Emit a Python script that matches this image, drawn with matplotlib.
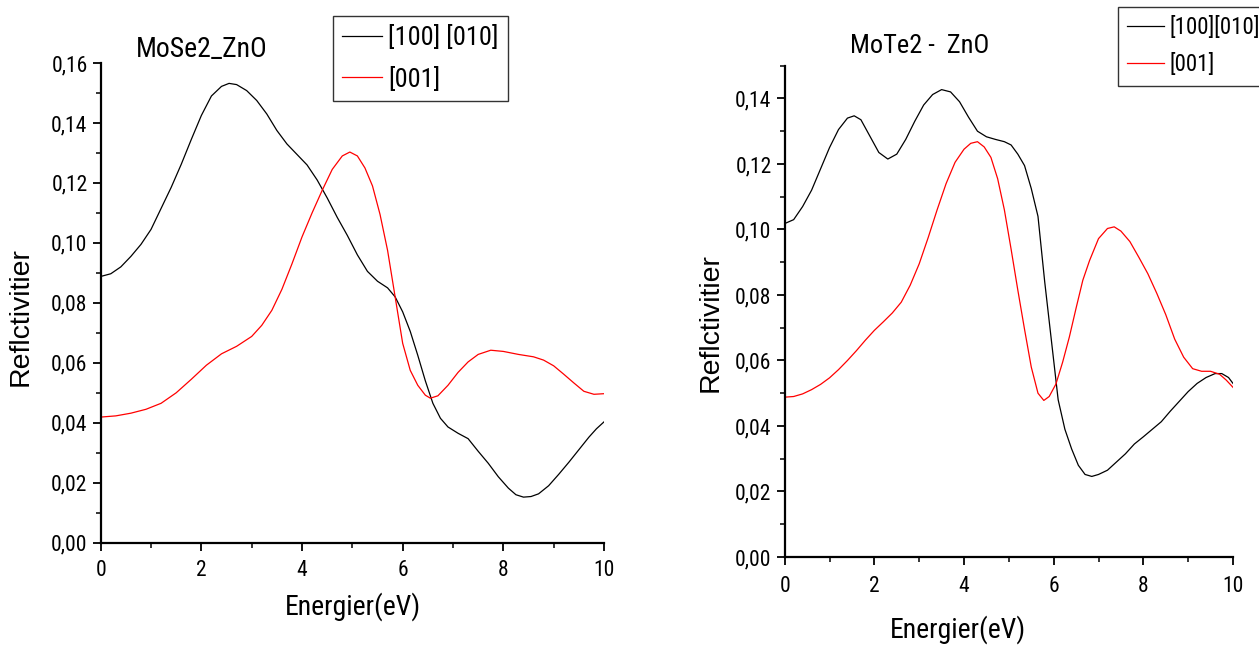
import matplotlib
matplotlib.use("Agg")
import matplotlib.pyplot as plt
from matplotlib.ticker import MultipleLocator, FuncFormatter
from matplotlib import font_manager
from matplotlib.font_manager import FontProperties

# ---------------- data ----------------
# MoSe2_ZnO, polarisation [100] [010]
mose2_e_xy = [0, 0.2, 0.4, 0.6, 0.8, 1.0, 1.2, 1.4, 1.6, 1.8, 2.0, 2.2, 2.4, 2.55, 2.7,
              2.9, 3.1, 3.3, 3.5, 3.7, 3.9, 4.1, 4.3, 4.5, 4.7, 4.9, 5.1, 5.3, 5.5, 5.7,
              5.85, 6.0, 6.15, 6.3, 6.45, 6.6, 6.75, 6.9, 7.1, 7.3, 7.5, 7.7, 7.9, 8.1,
              8.25, 8.4, 8.55, 8.7, 8.9, 9.1, 9.3, 9.5, 9.7, 9.85, 10.0]
mose2_r_xy = [0.0888, 0.0897, 0.0920, 0.0955, 0.0995, 0.1045, 0.1115, 0.1185, 0.1262, 0.1345,
              0.1425, 0.1490, 0.1522, 0.1532, 0.1528, 0.1508, 0.1475, 0.1430, 0.1375, 0.1330,
              0.1295, 0.1260, 0.1210, 0.1150, 0.1085, 0.1025, 0.0960, 0.0905, 0.0872, 0.0850,
              0.0820, 0.0770, 0.0705, 0.0625, 0.0540, 0.0465, 0.0415, 0.0386, 0.0365, 0.0347,
              0.0305, 0.0265, 0.0220, 0.0182, 0.0160, 0.0152, 0.0154, 0.0163, 0.0190, 0.0228,
              0.0268, 0.0310, 0.0352, 0.0380, 0.0403]

# MoSe2_ZnO, polarisation [001]
mose2_e_z = [0, 0.3, 0.6, 0.9, 1.2, 1.5, 1.8, 2.1, 2.4, 2.7, 3.0, 3.2, 3.4, 3.6, 3.8, 4.0,
             4.2, 4.4, 4.6, 4.8, 4.95, 5.1, 5.25, 5.4, 5.55, 5.7, 5.85, 6.0, 6.15, 6.3,
             6.45, 6.55, 6.7, 6.9, 7.1, 7.3, 7.5, 7.75, 8.0, 8.3, 8.6, 8.8, 9.0, 9.2, 9.4,
             9.6, 9.8, 10.0]
mose2_r_z = [0.0419, 0.0423, 0.0432, 0.0445, 0.0465, 0.0500, 0.0545, 0.0592, 0.0630, 0.0655,
             0.0688, 0.0725, 0.0775, 0.0845, 0.0930, 0.1020, 0.1100, 0.1175, 0.1245, 0.1290,
             0.1303, 0.1290, 0.1250, 0.1190, 0.1095, 0.0975, 0.0820, 0.0665, 0.0575, 0.0525,
             0.0492, 0.0482, 0.0490, 0.0525, 0.0568, 0.0603, 0.0628, 0.0642, 0.0638, 0.0628,
             0.0620, 0.0609, 0.0590, 0.0562, 0.0533, 0.0505, 0.0495, 0.0497]

# MoTe2 - ZnO, polarisation [100][010]
mote2_e_xy = [0, 0.2, 0.4, 0.6, 0.8, 1.0, 1.2, 1.4, 1.55, 1.7, 1.9, 2.1, 2.3, 2.5, 2.7, 2.9,
              3.1, 3.3, 3.5, 3.7, 3.9, 4.1, 4.3, 4.5, 4.7, 4.9, 5.05, 5.2, 5.35, 5.5, 5.65,
              5.8, 5.95, 6.1, 6.25, 6.4, 6.55, 6.7, 6.85, 7.0, 7.2, 7.4, 7.6, 7.8, 8.0, 8.2,
              8.4, 8.6, 8.8, 9.0, 9.2, 9.4, 9.6, 9.75, 9.9, 10.0]
mote2_r_xy = [0.1018, 0.1030, 0.1070, 0.1120, 0.1185, 0.1250, 0.1305, 0.1340, 0.1347, 0.1335,
              0.1285, 0.1235, 0.1215, 0.1230, 0.1275, 0.1330, 0.1380, 0.1412, 0.1427, 0.1420,
              0.1390, 0.1343, 0.1300, 0.1283, 0.1275, 0.1268, 0.1258, 0.1230, 0.1195, 0.1125,
              0.1040, 0.0840, 0.0660, 0.0480, 0.0390, 0.0330, 0.0280, 0.0252, 0.0246, 0.0252,
              0.0265, 0.0290, 0.0315, 0.0345, 0.0367, 0.0390, 0.0413, 0.0445, 0.0475, 0.0505,
              0.0530, 0.0548, 0.0560, 0.0560, 0.0548, 0.0530]

# MoTe2 - ZnO, polarisation [001]
mote2_e_z = [0, 0.2, 0.4, 0.6, 0.8, 1.0, 1.2, 1.4, 1.6, 1.8, 2.0, 2.2, 2.4, 2.6, 2.8, 3.0,
             3.2, 3.4, 3.6, 3.8, 4.0, 4.15, 4.3, 4.45, 4.6, 4.75, 4.9, 5.05, 5.2, 5.35, 5.5,
             5.65, 5.78, 5.9, 6.05, 6.2, 6.35, 6.5, 6.65, 6.8, 7.0, 7.2, 7.35, 7.5, 7.7, 7.9,
             8.1, 8.3, 8.5, 8.7, 8.9, 9.1, 9.3, 9.5, 9.7, 9.85, 10.0]
mote2_r_z = [0.0488, 0.0490, 0.0498, 0.0511, 0.0527, 0.0547, 0.0572, 0.0600, 0.0630, 0.0662,
             0.0692, 0.0718, 0.0745, 0.0778, 0.0830, 0.0895, 0.0975, 0.1060, 0.1140, 0.1205,
             0.1245, 0.1263, 0.1268, 0.1252, 0.1220, 0.1155, 0.1060, 0.0940, 0.0815, 0.0695,
             0.0580, 0.0500, 0.0478, 0.0490, 0.0528, 0.0595, 0.0672, 0.0760, 0.0845, 0.0905,
             0.0972, 0.1003, 0.1008, 0.0995, 0.0963, 0.0915, 0.0865, 0.0805, 0.0740, 0.0665,
             0.0610, 0.0575, 0.0567, 0.0567, 0.0558, 0.0540, 0.0518]

legend_labels_left = ["[100] [010]", "[001]"]
legend_labels_right = ["[100][010]", "[001]"]
titles = ["MoSe2_ZnO", "MoTe2 -  ZnO"]
x_label = "Energier(eV)"
y_label = "Reflctivitier"

# ---------------- fonts ----------------
# Prefer a narrow sans face; otherwise fall back to Liberation Sans, slightly smaller.
def _find_narrow():
    wanted = ["Liberation Sans Narrow", "Arial Narrow", "Roboto Condensed",
              "Open Sans Condensed", "Noto Sans Condensed", "DejaVu Sans Condensed"]
    entries = font_manager.fontManager.ttflist
    for name in wanted:
        for f in entries:
            if f.name == name and f.style == "normal" and f.weight in (400, "normal", "regular"):
                return f.fname
    for f in entries:
        st = str(f.stretch)
        if (("condensed" in st and "extra" not in st and "ultra" not in st)
                or "Narrow" in f.name or "Condensed" in f.name) \
                and f.style == "normal" and f.weight in (400, "normal", "regular"):
            return f.fname
    return None


NARROW_FILE = _find_narrow()


def narrow(size):
    if NARROW_FILE:
        return FontProperties(fname=NARROW_FILE, size=size)
    return FontProperties(family="Liberation Sans", size=size * 0.84)


def regular(size):
    return FontProperties(family="Liberation Sans", size=size)


W, H = 1259, 646
fig = plt.figure(figsize=(W / 100, H / 100), dpi=100)
fig.patch.set_facecolor("white")


def box(x0, y0, x1, y1):
    """Axes rectangle from pixel edges (top-left origin)."""
    return [x0 / W, 1 - y1 / H, (x1 - x0) / W, (y1 - y0) / H]


comma = FuncFormatter(lambda v, p: f"{v:.2f}".replace(".", ","))


def style_axes(ax, ymax, xpad):
    ax.set_xlim(0, 10)
    ax.set_ylim(0, ymax)
    for s in ("top", "right"):
        ax.spines[s].set_visible(False)
    for s in ("left", "bottom"):
        ax.spines[s].set_linewidth(1.6)
    ax.xaxis.set_major_locator(MultipleLocator(2))
    ax.xaxis.set_minor_locator(MultipleLocator(1))
    ax.yaxis.set_major_locator(MultipleLocator(0.02))
    ax.yaxis.set_minor_locator(MultipleLocator(0.01))
    ax.yaxis.set_major_formatter(comma)
    ax.tick_params(which="major", direction="out", length=6, width=1.3)
    ax.tick_params(which="minor", direction="out", length=3.5, width=1.1)
    ax.tick_params(axis="y", which="major", pad=3.5)
    ax.tick_params(axis="x", which="major", pad=xpad)
    for lab in ax.get_xticklabels() + ax.get_yticklabels():
        lab.set_fontproperties(narrow(15.5))


# ---------------- left: MoSe2_ZnO ----------------
ax1 = fig.add_axes(box(100.7, 63, 604, 542.7))
ax1.plot(mose2_e_xy, mose2_r_xy, color="black", lw=0.9, label=legend_labels_left[0])
ax1.plot(mose2_e_z, mose2_r_z, color="red", lw=0.9, label=legend_labels_left[1])
style_axes(ax1, 0.16, 6.5)
leg1 = ax1.legend(loc="upper left", bbox_to_anchor=(333 / W, 1 - 16 / H),
                  bbox_transform=fig.transFigure, borderaxespad=0,
                  prop=narrow(19), frameon=True, fancybox=False,
                  handlelength=1.5, handletextpad=0.25, labelspacing=0.62,
                  borderpad=0.35)
leg1.get_frame().set_edgecolor("black")
leg1.get_frame().set_linewidth(1.0)

fig.text(202 / W, 1 - 57 / H, titles[0], ha="center", va="baseline",
         fontproperties=narrow(20))
fig.text(353 / W, 1 - 615 / H, x_label, ha="center", va="baseline",
         fontproperties=narrow(20))
fig.text(20.5 / W, 1 - 316.5 / H, y_label, ha="center", va="center",
         rotation=90, fontproperties=regular(20.5))

# ---------------- right: MoTe2 - ZnO ----------------
ax2 = fig.add_axes(box(784.7, 65.7, 1233, 557))
ax2.plot(mote2_e_xy, mote2_r_xy, color="black", lw=0.9, label=legend_labels_right[0])
ax2.plot(mote2_e_z, mote2_r_z, color="red", lw=0.9, label=legend_labels_right[1])
style_axes(ax2, 0.150, 7.5)
leg2 = ax2.legend(loc="upper left", bbox_to_anchor=(1118 / W, 1 - 7 / H),
                  bbox_transform=fig.transFigure, borderaxespad=0,
                  prop=narrow(16.5), frameon=True, fancybox=False,
                  handlelength=1.6, handletextpad=0.25, labelspacing=0.62,
                  borderpad=0.4)
leg2.get_frame().set_edgecolor("black")
leg2.get_frame().set_linewidth(1.0)

fig.text(920 / W, 1 - 53 / H, titles[1], ha="center", va="baseline",
         fontproperties=narrow(19))
fig.text(958 / W, 1 - 638 / H, x_label, ha="center", va="baseline",
         fontproperties=narrow(20))
fig.text(711 / W, 1 - 322.5 / H, y_label, ha="center", va="center",
         rotation=90, fontproperties=regular(20.5))

fig.savefig("out.png", dpi=100, facecolor="white")
